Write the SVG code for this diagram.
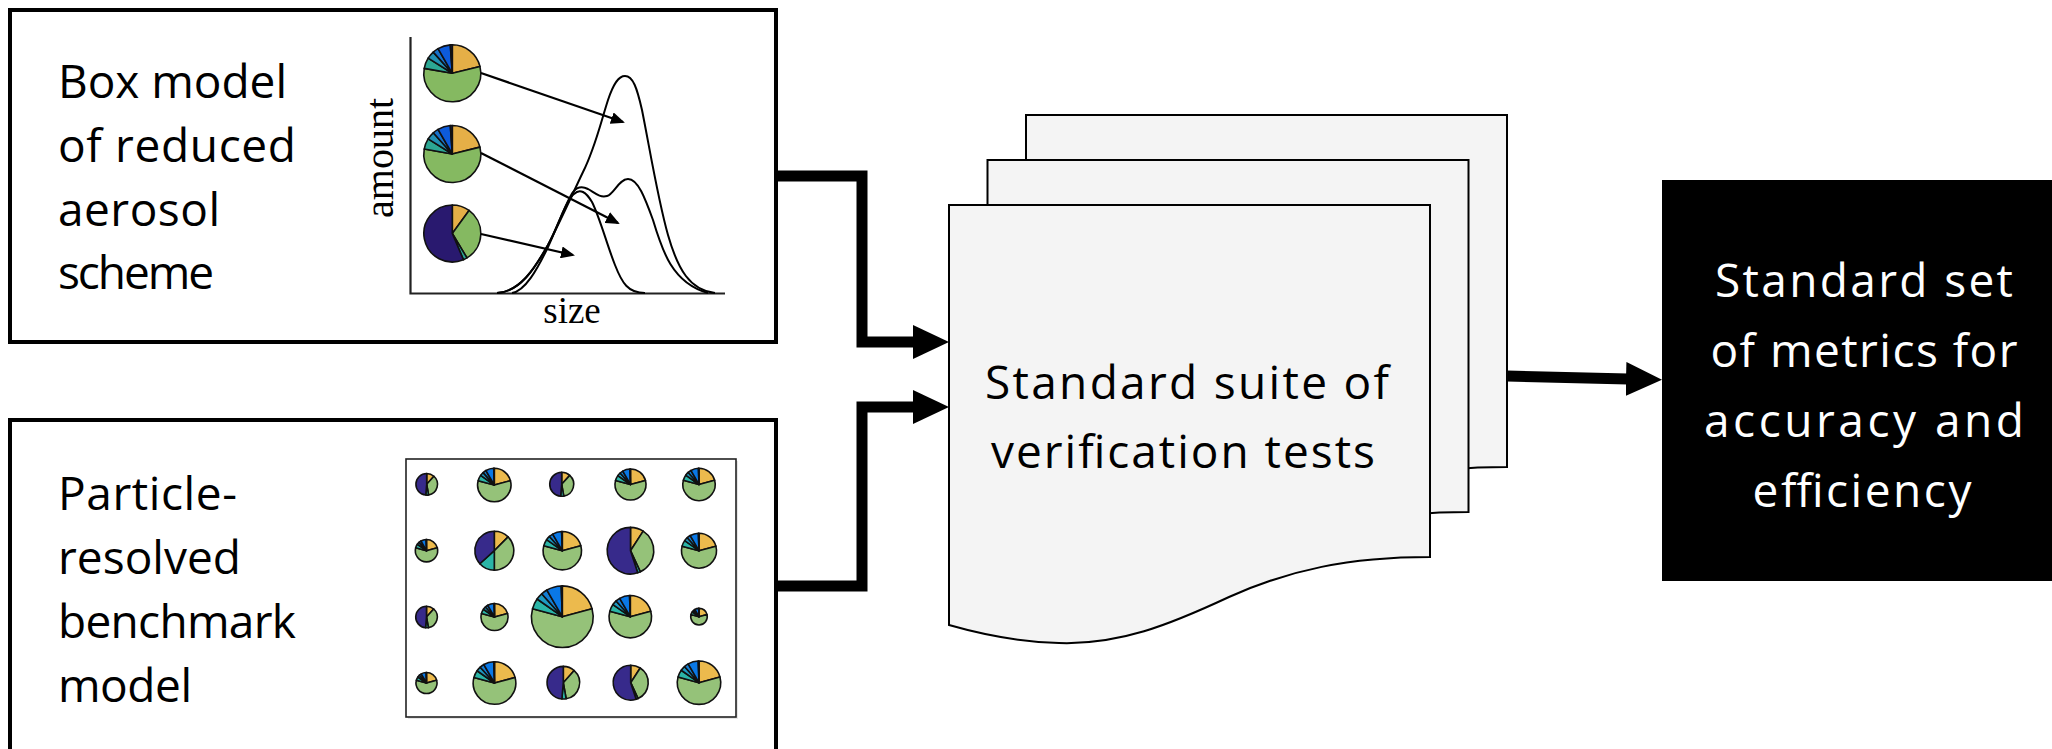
<svg xmlns="http://www.w3.org/2000/svg" xmlns:xlink="http://www.w3.org/1999/xlink" width="2052" height="749" viewBox="0 0 2052 749">
<style>
.box{fill:#fff;stroke:#000;stroke-width:4}
.lbl{font-family:"Open Sans","DejaVu Sans",sans-serif;font-size:46px;fill:#000}
.wlbl{font-family:"Open Sans","DejaVu Sans",sans-serif;font-size:46px;fill:#fff}
.serif{font-family:"Liberation Serif","Times New Roman",serif;fill:#000}
.doc{fill:#f4f4f4;stroke:#000;stroke-width:2}
.conn{fill:none;stroke:#000;stroke-width:11;stroke-linejoin:miter}
.curve{fill:none;stroke:#000;stroke-width:2}
.axis{fill:none;stroke:#222;stroke-width:2.2}
.parrow{stroke:#000;stroke-width:2.2}
.s path{stroke:#111;stroke-width:1.6;stroke-linejoin:round;vector-effect:non-scaling-stroke}
.ty{fill:#e5af47}.tg{fill:#85b961}.tt{fill:#2ca794}.tt2{fill:#2190b4}.tb2{fill:#1772cc}.tb{fill:#0d5bdb}.tn{fill:#29196f}
.by{fill:#ecba4d}.bg{fill:#95c279}.bt{fill:#2bb5a7}.bt2{fill:#1e9bc3}.bb2{fill:#137fd6}.bb{fill:#0a78e6}.bn{fill:#372a8b}
</style>
<defs>
<marker id="bigArrow" viewBox="0 0 36 34" refX="2" refY="17" markerWidth="36" markerHeight="34" markerUnits="userSpaceOnUse" orient="auto">
<path d="M0 0 L36 17 L0 34 Z" fill="#000"/>
</marker>
<marker id="smallArrow" viewBox="0 0 14 12" refX="12" refY="6" markerWidth="14" markerHeight="12" markerUnits="userSpaceOnUse" orient="auto">
<path d="M0 0 L14 6 L0 12 Z" fill="#000"/>
</marker>
<path id="docShape" d="M0 0 H481 V352 C400 352 340 365 280 392 C220 420 170 440 110 438 C70 437 35 430 0 420 Z"/>
<g id="pieGT" class="s">
<path class="ty" d="M0 0 L0 -100 A100 100 0 0 1 97 -24.2 Z"/>
<path class="tg" d="M0 0 L97 -24.2 A100 100 0 1 1 -98.5 -17.4 Z"/>
<path class="tt" d="M0 0 L-98.5 -17.4 A100 100 0 0 1 -84.8 -53 Z"/>
<path class="tt2" d="M0 0 L-84.8 -53 A100 100 0 0 1 -66.9 -74.3 Z"/>
<path class="tb2" d="M0 0 L-66.9 -74.3 A100 100 0 0 1 -50 -86.6 Z"/>
<path class="tb" d="M0 0 L-50 -86.6 A100 100 0 0 1 -7 -99.8 Z"/>
<path class="tn" d="M0 0 L-7 -99.8 A100 100 0 0 1 0 -100 Z"/>
</g>
<g id="pieNT" class="s">
<path class="ty" d="M0 0 L0 -100 A100 100 0 0 1 58.8 -80.9 Z"/>
<path class="tg" d="M0 0 L58.8 -80.9 A100 100 0 0 1 51.5 85.7 Z"/>
<path class="tt" d="M0 0 L51.5 85.7 A100 100 0 0 1 39.1 92.1 Z"/>
<path class="tn" d="M0 0 L39.1 92.1 A100 100 0 1 1 0 -100 Z"/>
</g>
<g id="pieG" class="s">
<path class="by" d="M0 0 L0 -100 A100 100 0 0 1 96.6 -25.9 Z"/>
<path class="bg" d="M0 0 L96.6 -25.9 A100 100 0 1 1 -96.6 -25.9 Z"/>
<path class="bt" d="M0 0 L-96.6 -25.9 A100 100 0 0 1 -81.9 -57.4 Z"/>
<path class="bt2" d="M0 0 L-81.9 -57.4 A100 100 0 0 1 -66.9 -74.3 Z"/>
<path class="bb2" d="M0 0 L-66.9 -74.3 A100 100 0 0 1 -50 -86.6 Z"/>
<path class="bb" d="M0 0 L-50 -86.6 A100 100 0 0 1 -3.5 -99.9 Z"/>
<path class="bn" d="M0 0 L-3.5 -99.9 A100 100 0 0 1 0 -100 Z"/>
</g>
<g id="pieNA" class="s">
<path class="by" d="M0 0 L0 -100 A100 100 0 0 1 66.9 -74.3 Z"/>
<path class="bg" d="M0 0 L66.9 -74.3 A100 100 0 0 1 17.4 98.5 Z"/>
<path class="bt" d="M0 0 L17.4 98.5 A100 100 0 0 1 -8.7 99.6 Z"/>
<path class="bn" d="M0 0 L-8.7 99.6 A100 100 0 0 1 0 -100 Z"/>
</g>
<g id="pieNB" class="s">
<path class="by" d="M0 0 L0 -100 A100 100 0 0 1 70.7 -70.7 Z"/>
<path class="bg" d="M0 0 L70.7 -70.7 A100 100 0 0 1 0 100 Z"/>
<path class="bt" d="M0 0 L0 100 A100 100 0 0 1 -74.3 66.9 Z"/>
<path class="bn" d="M0 0 L-74.3 66.9 A100 100 0 0 1 0 -100 Z"/>
</g>
<g id="pieNC" class="s">
<path class="by" d="M0 0 L0 -100 A100 100 0 0 1 54.5 -83.9 Z"/>
<path class="bg" d="M0 0 L54.5 -83.9 A100 100 0 0 1 42.3 90.6 Z"/>
<path class="bt" d="M0 0 L42.3 90.6 A100 100 0 0 1 30.9 95.1 Z"/>
<path class="bn" d="M0 0 L30.9 95.1 A100 100 0 1 1 0 -100 Z"/>
</g>
</defs>

<rect width="2052" height="749" fill="#fff"/>

<g id="node-box-model">
<rect class="box" x="10" y="10" width="766" height="332"/>
<text class="lbl" x="58" y="98" textLength="229" lengthAdjust="spacing">Box model</text>
<text class="lbl" x="58" y="162" textLength="238" lengthAdjust="spacing">of reduced</text>
<text class="lbl" x="58" y="226" textLength="162" lengthAdjust="spacing">aerosol</text>
<text class="lbl" x="58" y="289" textLength="156" lengthAdjust="spacing">scheme</text>
<g id="size-plot">
<path class="axis" d="M410.5 37 V293.5 H725"/>
<text class="serif" font-size="40" text-anchor="middle" transform="translate(393 158) rotate(-90)">amount</text>
<text class="serif" font-size="37" x="572" y="323" text-anchor="middle">size</text>
<path class="curve" d="M497 293 C520 292 535 268 548 245 C562 218 572 195 583 172 C595 148 600 125 608 100 C614 82 619 76 625 76 C633 76 637 88 642 110 C650 150 658 200 668 235 C678 270 690 290 715 293"/>
<path class="curve" d="M497 293 C520 292 535 268 548 245 C558 226 566 202 573 192 C577 187 582 186 588 189 C595 193 600 198 607 196 C614 194 619 179 628 179 C638 179 645 198 653 220 C662 250 672 283 708 293"/>
<path class="curve" d="M512 293 C525 291 537 270 548 247 C558 226 566 200 574 194 C580 188 586 192 592 202 C600 218 607 245 615 265 C622 283 628 293 645 293"/>
<use xlink:href="#pieGT" transform="translate(452.3 73.3) scale(0.285)"/>
<use xlink:href="#pieGT" transform="translate(452.3 154) scale(0.285)"/>
<use xlink:href="#pieNT" transform="translate(452.3 233.5) scale(0.285)"/>
<line class="parrow" x1="481" y1="73" x2="623" y2="122" marker-end="url(#smallArrow)"/>
<line class="parrow" x1="481" y1="153" x2="618" y2="223" marker-end="url(#smallArrow)"/>
<line class="parrow" x1="481" y1="234" x2="573" y2="255" marker-end="url(#smallArrow)"/>
</g>
</g>

<g id="node-particle-resolved">
<rect class="box" x="10" y="420" width="766" height="360"/>
<text class="lbl" x="58" y="510" textLength="179" lengthAdjust="spacing">Particle-</text>
<text class="lbl" x="58" y="574" textLength="183" lengthAdjust="spacing">resolved</text>
<text class="lbl" x="58" y="638" textLength="238" lengthAdjust="spacing">benchmark</text>
<text class="lbl" x="58" y="702" textLength="134" lengthAdjust="spacing">model</text>
<g id="particle-grid">
<rect x="408" y="461" width="330" height="258" fill="#e6e6e6"/>
<rect x="406" y="459" width="330" height="258" fill="#fff" stroke="#222" stroke-width="1.6"/>
<use xlink:href="#pieNA" transform="translate(426.7 484.3) scale(0.108)"/>
<use xlink:href="#pieG" transform="translate(494.3 485) scale(0.167)"/>
<use xlink:href="#pieNA" transform="translate(561.7 484.3) scale(0.12)"/>
<use xlink:href="#pieG" transform="translate(630.5 484.5) scale(0.155)"/>
<use xlink:href="#pieG" transform="translate(699 484.5) scale(0.162)"/>
<use xlink:href="#pieG" transform="translate(426.5 550.7) scale(0.112)"/>
<use xlink:href="#pieNB" transform="translate(494.3 550.7) scale(0.195)"/>
<use xlink:href="#pieG" transform="translate(562.3 550.7) scale(0.192)"/>
<use xlink:href="#pieNC" transform="translate(630.5 550.7) scale(0.233)"/>
<use xlink:href="#pieG" transform="translate(699 550.7) scale(0.175)"/>
<use xlink:href="#pieNA" transform="translate(426.5 617) scale(0.108)"/>
<use xlink:href="#pieG" transform="translate(494.5 617) scale(0.135)"/>
<use xlink:href="#pieG" transform="translate(562.3 616.7) scale(0.308)"/>
<use xlink:href="#pieG" transform="translate(630.3 616.7) scale(0.212)"/>
<use xlink:href="#pieG" transform="translate(699 616.7) scale(0.083)"/>
<use xlink:href="#pieG" transform="translate(426.5 683) scale(0.105)"/>
<use xlink:href="#pieG" transform="translate(494.5 683) scale(0.213)"/>
<use xlink:href="#pieNA" transform="translate(563.3 682.7) scale(0.163)"/>
<use xlink:href="#pieNC" transform="translate(630.7 682.7) scale(0.175)"/>
<use xlink:href="#pieG" transform="translate(699 682.7) scale(0.217)"/>
</g>
</g>

<g id="node-test-suite">
<use xlink:href="#docShape" class="doc" transform="translate(1026 115)"/>
<use xlink:href="#docShape" class="doc" transform="translate(987.5 160)"/>
<use xlink:href="#docShape" class="doc" transform="translate(949 205)"/>
<text class="lbl" x="985" y="399" textLength="404" lengthAdjust="spacing">Standard suite of</text>
<text class="lbl" x="991" y="468" textLength="384" lengthAdjust="spacing">verification tests</text>
</g>

<g id="node-metrics">
<rect x="1662" y="180" width="400" height="401" fill="#000"/>
<text class="wlbl" x="1864" y="297" text-anchor="middle" textLength="298" lengthAdjust="spacing">Standard set</text>
<text class="wlbl" x="1864" y="367" text-anchor="middle" textLength="307" lengthAdjust="spacing">of metrics for</text>
<text class="wlbl" x="1864" y="437" text-anchor="middle" textLength="320" lengthAdjust="spacing">accuracy and</text>
<text class="wlbl" x="1862" y="507" text-anchor="middle" textLength="219" lengthAdjust="spacing">efficiency</text>
</g>

<g id="connectors">
<polyline class="conn" points="776,176 862,176 862,342 915,342" marker-end="url(#bigArrow)"/>
<polyline class="conn" points="776,586 862,586 862,407 915,407" marker-end="url(#bigArrow)"/>
<line class="conn" x1="1507" y1="376" x2="1628" y2="379" marker-end="url(#bigArrow)"/>
</g>
</svg>
